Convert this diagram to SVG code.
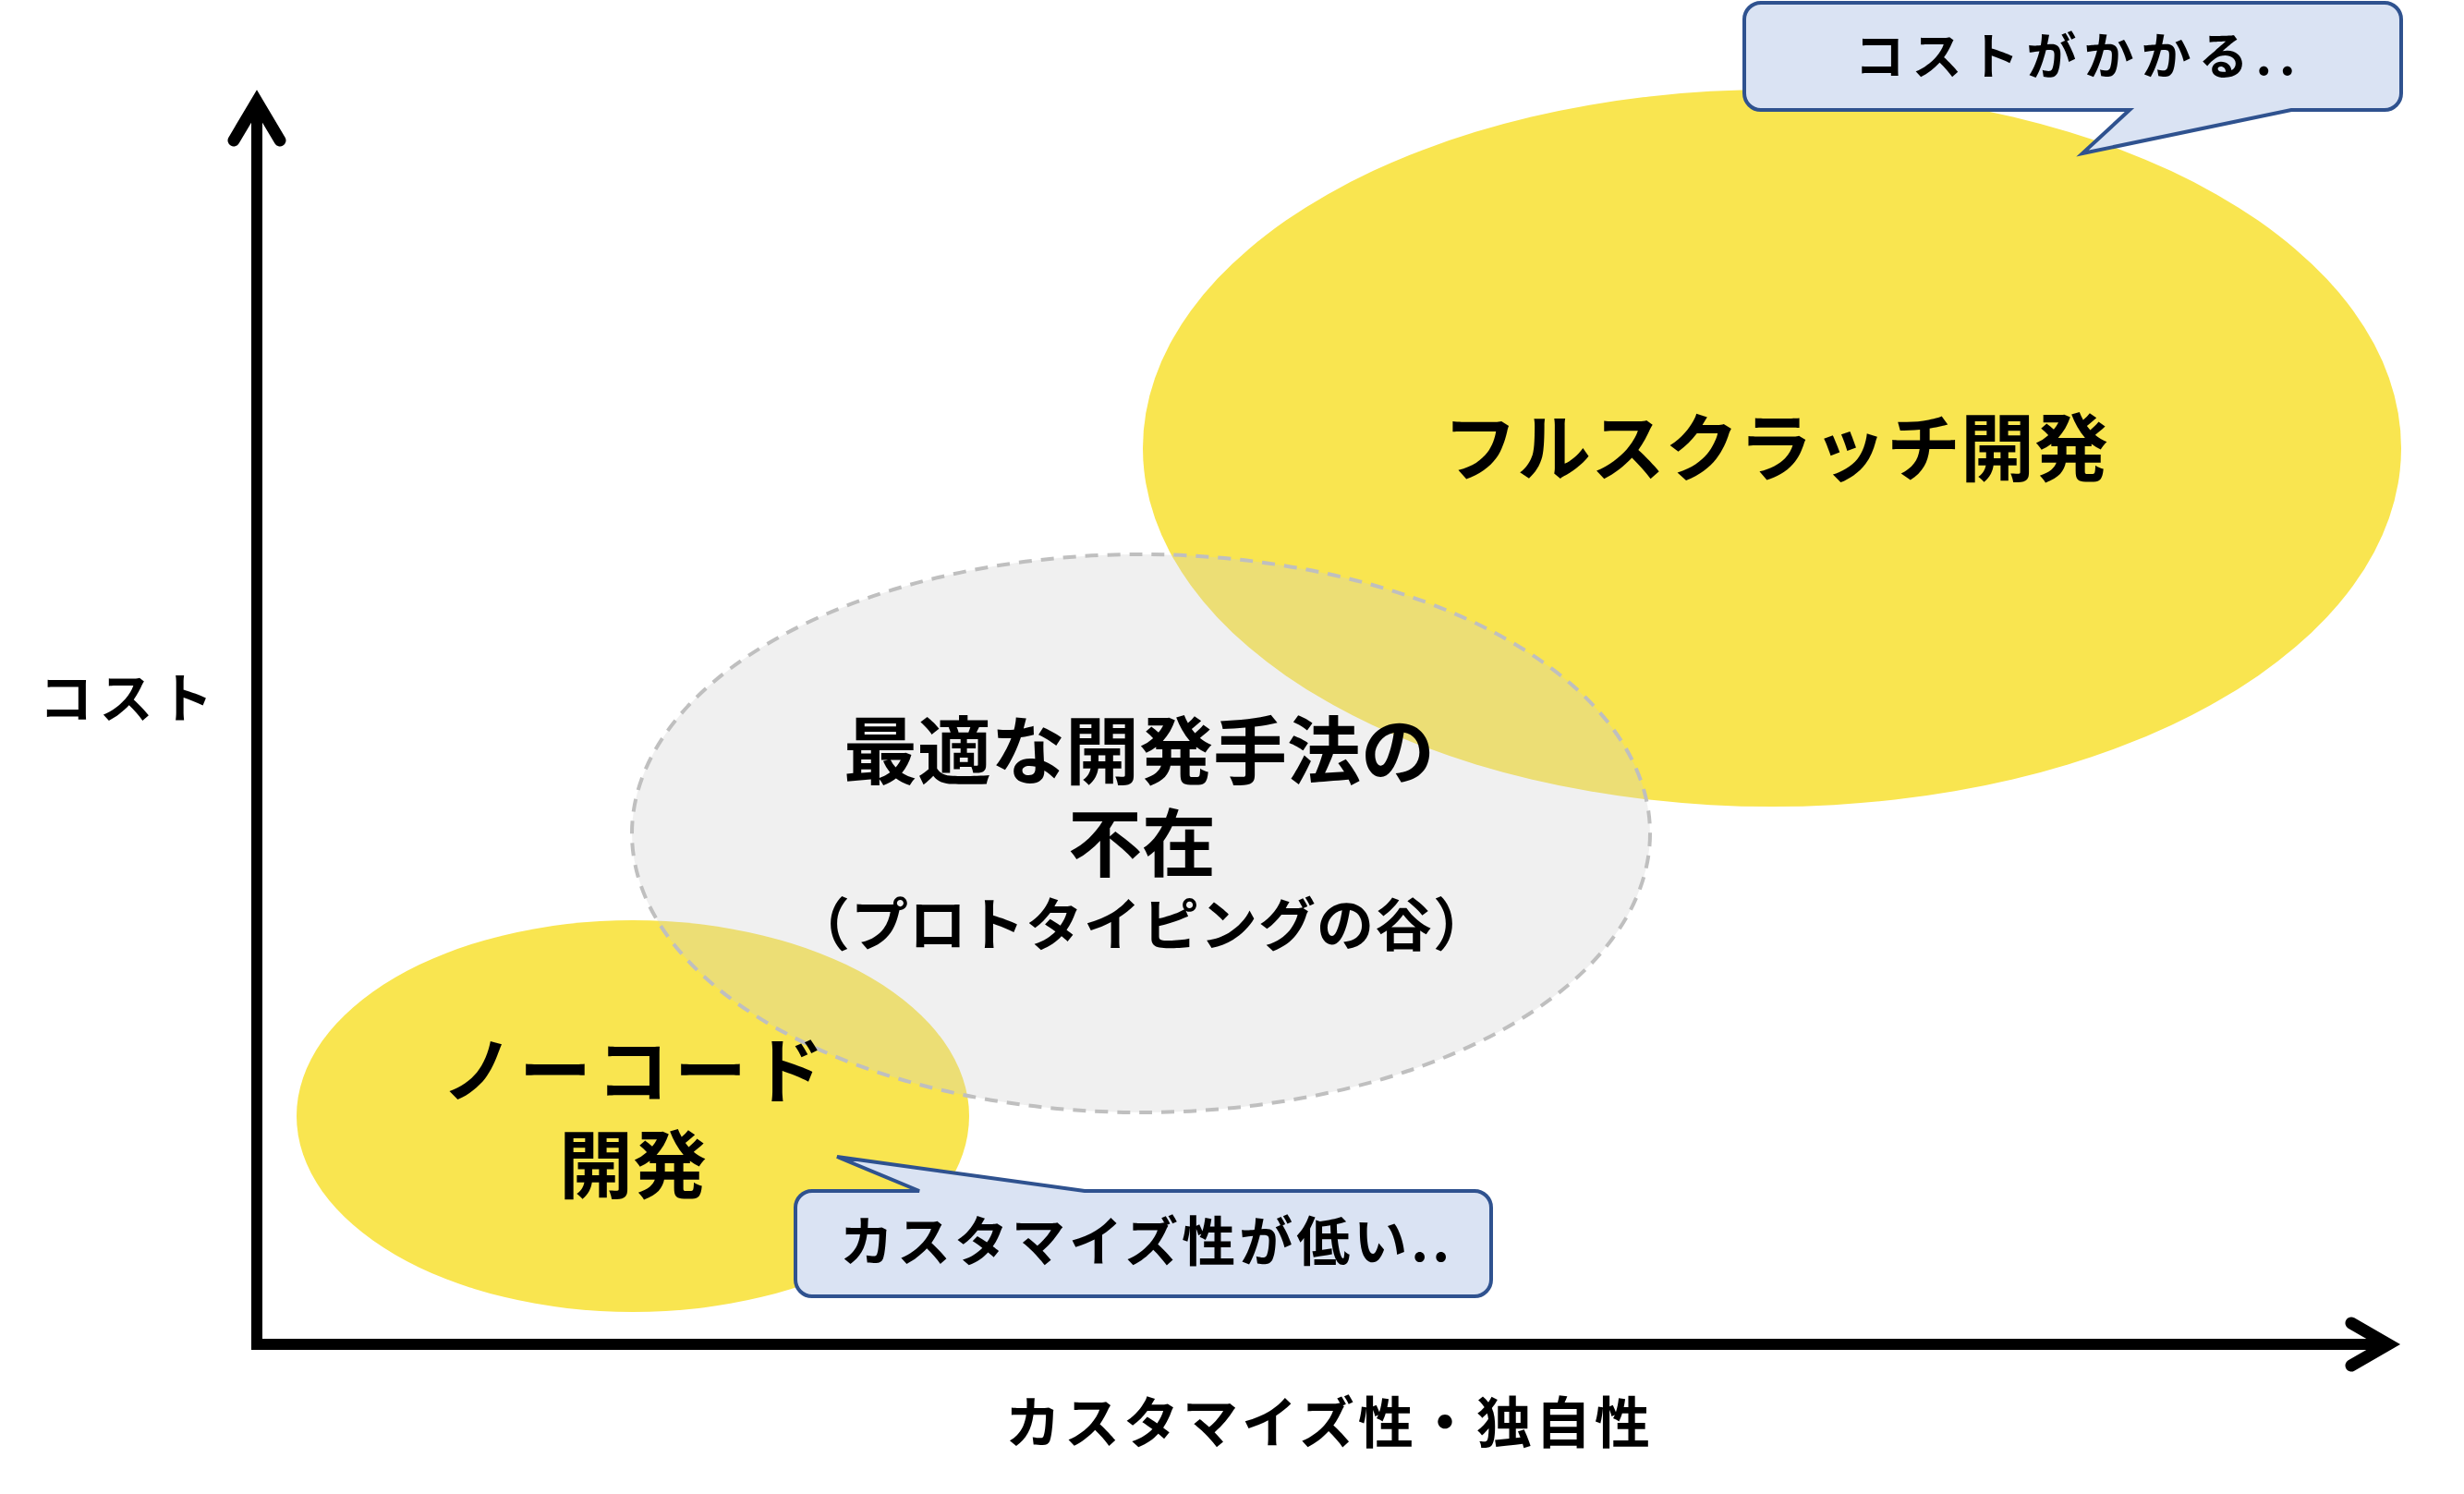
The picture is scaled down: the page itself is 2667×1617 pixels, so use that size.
<svg xmlns="http://www.w3.org/2000/svg" width="2667" height="1617" viewBox="0 0 2667 1617">
<style>
.t{font-family:"Noto Sans CJK JP","Noto Sans",sans-serif;font-weight:700;fill:#000;text-anchor:middle}
.yel{fill:#F9E550}
.gray{fill:#CCCCCC;fill-opacity:0.3;stroke:#BFBFBF;stroke-width:4;stroke-dasharray:14 10}
.bub{fill:#DAE3F3;stroke:#2F528F;stroke-width:4;stroke-linejoin:miter}
.ax{fill:none;stroke:#000;stroke-width:12;stroke-linejoin:miter}
.ah{fill:none;stroke:#000;stroke-width:13;stroke-linecap:round;stroke-linejoin:miter}
</style>
<rect width="2667" height="1617" fill="#fff"/>
<g id="full-scratch">
<ellipse class="yel" cx="1918" cy="485" rx="681" ry="388"/>
<text class="t" x="1922" y="514" font-size="80">フルスクラッチ開発</text>
</g>
<g id="no-code">
<ellipse class="yel" cx="685" cy="1208" rx="364" ry="212"/>
</g>
<g id="valley">
<ellipse class="gray" cx="1235" cy="902" rx="551" ry="302"/>
<text class="t" x="1233" y="842" font-size="80">最適な開発手法の</text>
<text class="t" x="1236" y="942" font-size="80">不在</text>
<text class="t" x="1236" y="1024" font-size="62" letter-spacing="1">（プロトタイピングの谷）</text>
</g>
<g id="no-code-label">
<text class="t" x="688" y="1188" font-size="78" letter-spacing="6">ノーコード</text>
<text class="t" x="685" y="1290" font-size="80">開発</text>
</g>
<g id="connectors">
<path class="ax" d="M278,110 V1455 H2585"/>
<path class="ah" d="M253,152 L278,110 L303,152"/>
<path class="ah" d="M2545,1432 L2585,1455 L2545,1478"/>
</g>
<g id="bubble-cost">
<path class="bub" d="M1906,3 H2581 A18,18 0 0 1 2599,21 V101 A18,18 0 0 1 2581,119 H2480 L2254,166 L2305,119 H1906 A18,18 0 0 1 1888,101 V21 A18,18 0 0 1 1906,3 Z"/>
<text class="t" x="2250" y="81" font-size="54" letter-spacing="8">コストがかかる..</text>
</g>
<g id="bubble-custom">
<path class="bub" d="M879,1289 H995 L906,1252 L1174,1289 H1596 A18,18 0 0 1 1614,1307 V1385 A18,18 0 0 1 1596,1403 H879 A18,18 0 0 1 861,1385 V1307 A18,18 0 0 1 879,1289 Z"/>
<text class="t" x="1241" y="1365" font-size="58" letter-spacing="4">カスタマイズ性が低い..</text>
</g>
<g id="axis-labels">
<text class="t" x="140" y="777" font-size="58" letter-spacing="7">コスト</text>
<text class="t" x="1439" y="1562" font-size="60" letter-spacing="4">カスタマイズ性・独自性</text>
</g>
</svg>
